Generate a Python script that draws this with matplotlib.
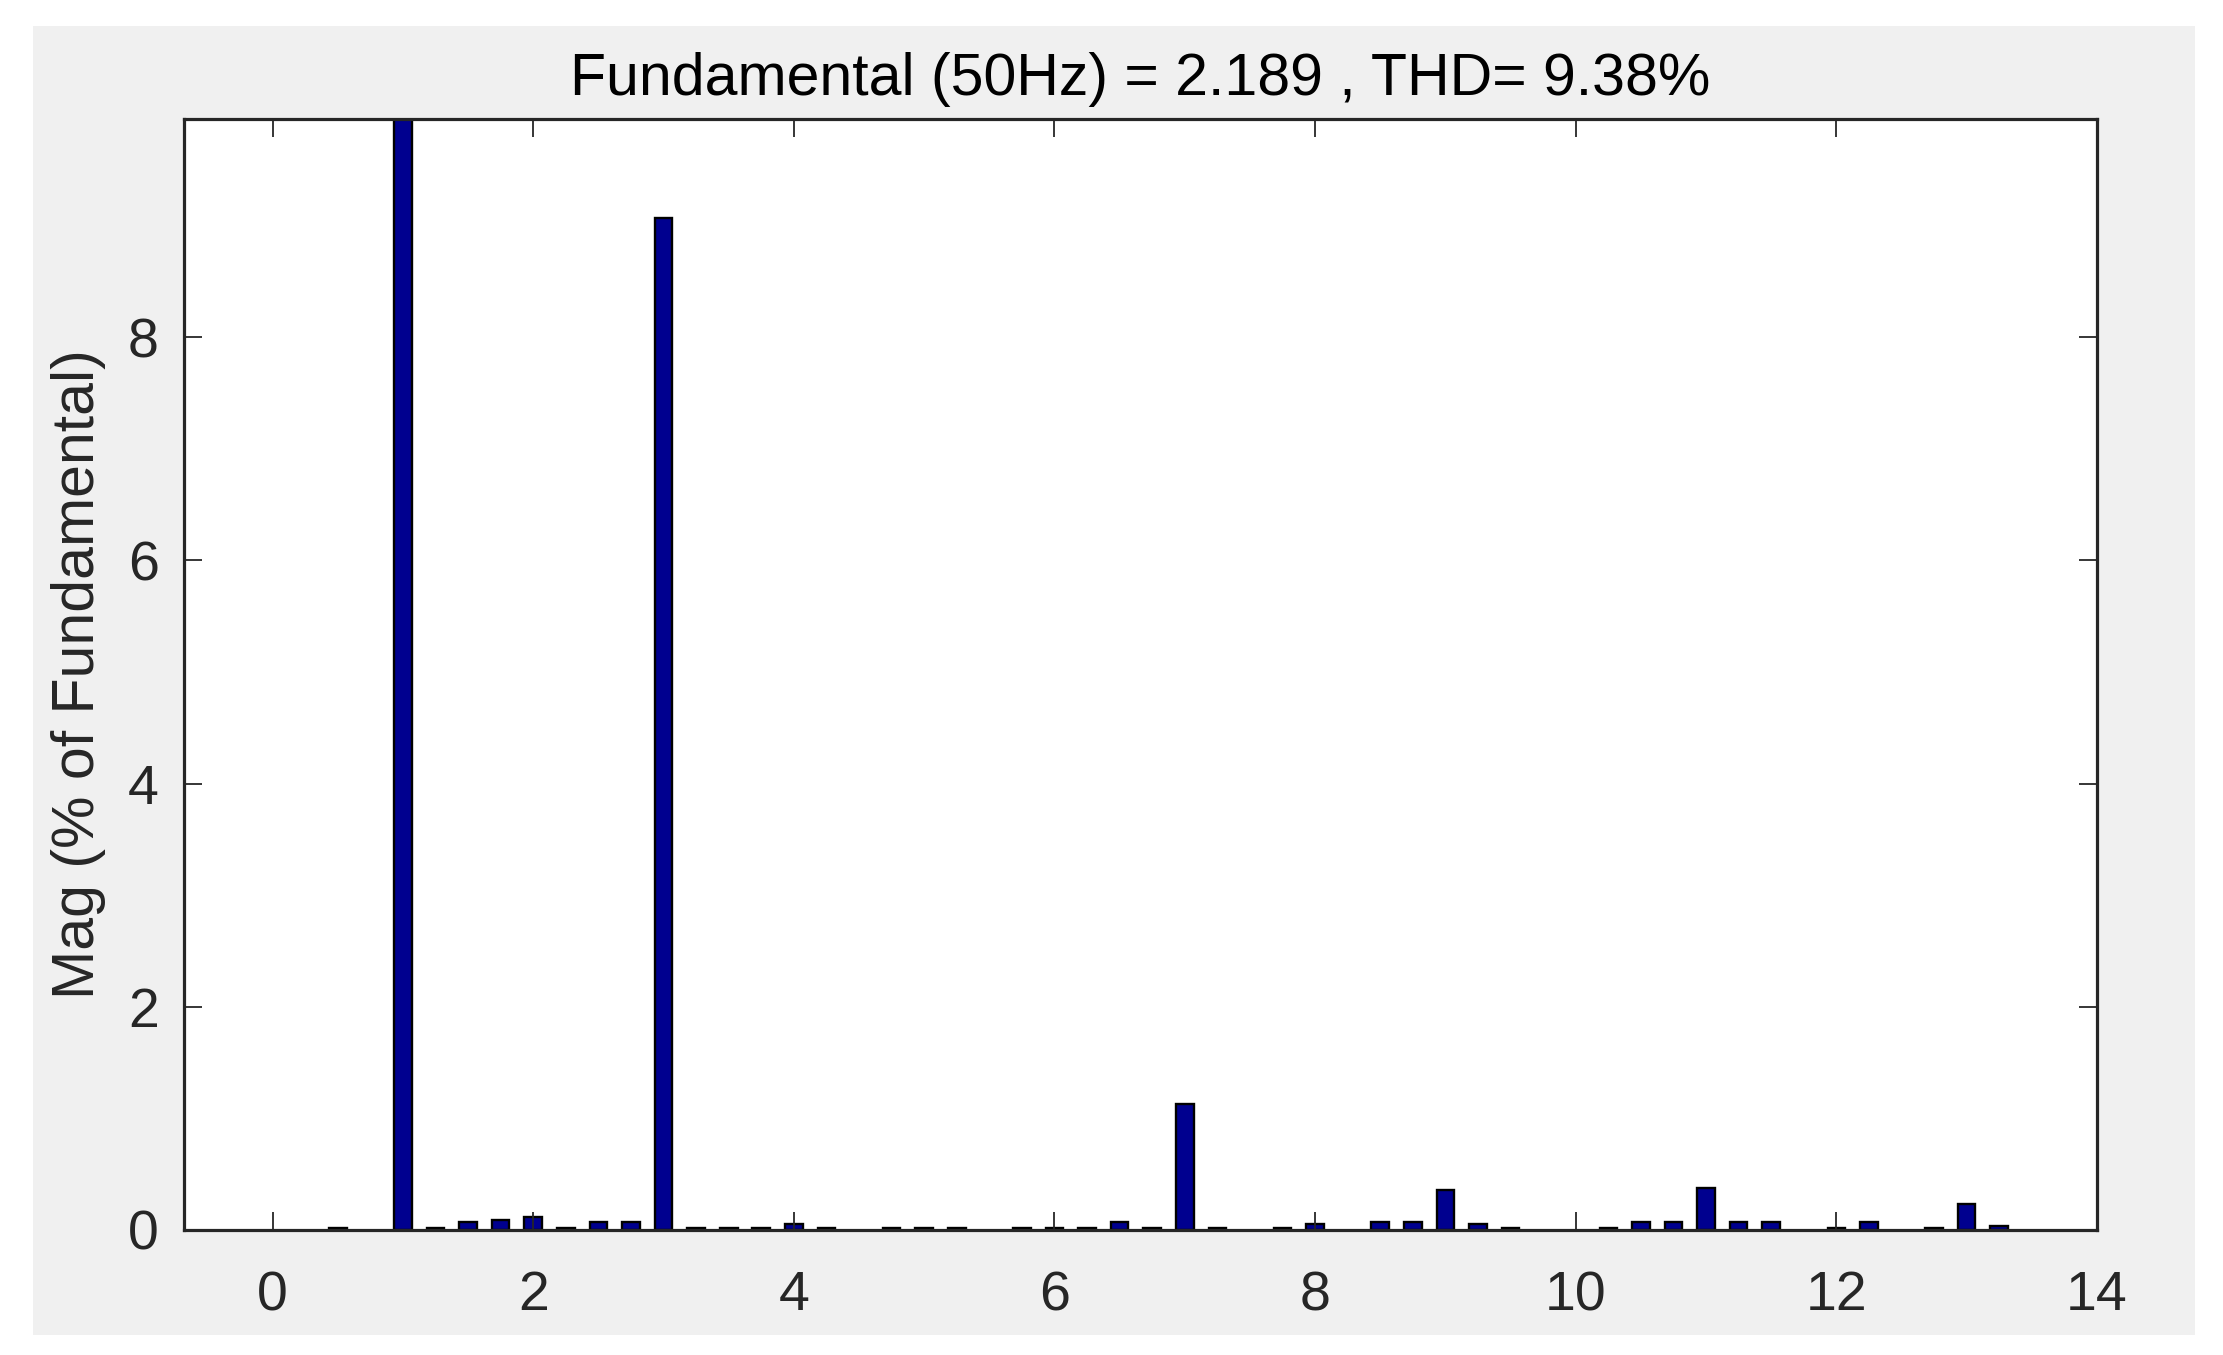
import matplotlib.pyplot as plt
from matplotlib.patches import Rectangle

# harmonic order (x) and magnitude in % of fundamental
orders = [0.5, 1.0, 1.25, 1.5, 1.75, 2.0, 2.25, 2.5, 2.75, 3.0, 3.25, 3.5, 3.75,
          4.0, 4.25, 4.75, 5.0, 5.25, 5.75, 6.0, 6.25, 6.5, 6.75, 7.0, 7.25,
          7.75, 8.0, 8.5, 8.75, 9.0, 9.25, 9.5, 10.25, 10.5, 10.75, 11.0,
          11.25, 11.5, 12.0, 12.25, 12.75, 13.0, 13.25]
mags = [0.02, 100.0, 0.02, 0.07, 0.09, 0.12, 0.02, 0.07, 0.07, 9.07, 0.02, 0.02, 0.02,
        0.05, 0.02, 0.02, 0.02, 0.02, 0.02, 0.02, 0.02, 0.07, 0.02, 1.13, 0.02,
        0.02, 0.05, 0.07, 0.07, 0.36, 0.05, 0.02, 0.02, 0.07, 0.07, 0.38,
        0.07, 0.07, 0.02, 0.07, 0.02, 0.23, 0.04]

xticks = [0, 2, 4, 6, 8, 10, 12, 14]
yticks = [0, 2, 4, 6, 8]

plt.rcParams['font.family'] = ['Liberation Sans', 'DejaVu Sans']

W, H = 2223, 1355
fig = plt.figure(figsize=(W / 100, H / 100), dpi=100, facecolor='white')

# grey matlab figure background
fig.patches.append(Rectangle((33 / W, 1 - 1335 / H), (2195 - 33) / W, (1335 - 26) / H,
                             transform=fig.transFigure, facecolor='#f0f0f0',
                             edgecolor='none', zorder=-10))

ax = fig.add_axes([184 / W, 1 - 1230 / H, (2097 - 184) / W, (1230 - 119) / H])
ax.set_zorder(5)
ax.set_facecolor('white')

ax.bar(orders, mags, width=0.135, color='#00008f', edgecolor='black', linewidth=1.7)

ax.set_xlim(-0.68, 14)
ax.set_ylim(0, 9.955)
ax.set_xticks(xticks)
ax.set_yticks(yticks)

for s in ax.spines.values():
    s.set_linewidth(2.3)
    s.set_color('#262626')

ax.tick_params(direction='in', length=13, width=1.3, color='#262626',
               labelsize=40, labelcolor='#262626', top=True, right=True)
ax.tick_params(axis='x', pad=29)
ax.tick_params(axis='y', pad=18)

ax.set_ylabel('Mag (% of Fundamental)', fontsize=42.5, color='#262626', labelpad=16)
ax.set_title('Fundamental (50Hz) = 2.189 , THD= 9.38%', fontsize=42.5, pad=17)

fig.savefig('out.png', dpi=100, facecolor='white')
